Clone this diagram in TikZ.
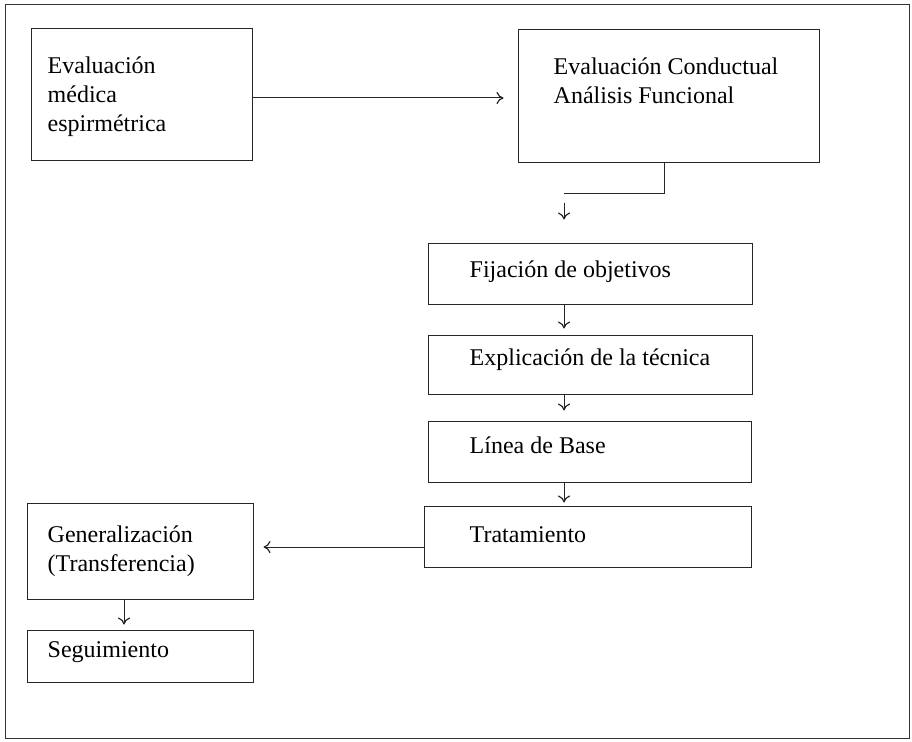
\documentclass[tikz,border=0pt]{standalone}
\usepackage{fontspec}
\setmainfont{Liberation Serif}
\usetikzlibrary{calc, arrows.meta}

\tikzset{
  box/.style={draw=black!85, line width=1pt, inner sep=0pt},
  txt/.style={anchor=west, align=left, inner sep=0pt, font=\fontsize{24}{29}\selectfont},
  link/.style={draw=black!85, line width=1pt},
  arr/.style={link, -{To[length=7pt,width=12pt,line width=1.2pt]}}
}

\begin{document}
\begin{tikzpicture}[x=1pt, y=-1pt]
  \useasboundingbox (0,0) rectangle (912,741);
  \draw[line width=1pt, black!80] (5,5) rectangle (909,738);

  % boxes
  \node[box, minimum width=221, minimum height=131] (evmed) at (141.5,94.5) {};
  \node[box, minimum width=301, minimum height=132] (evcond) at (668.5,96) {};
  \node[box, minimum width=324, minimum height=61] (fij) at (590,273.5) {};
  \node[box, minimum width=324, minimum height=59] (expl) at (590,364.5) {};
  \node[box, minimum width=323, minimum height=61] (lbase) at (589.5,451.5) {};
  \node[box, minimum width=327, minimum height=61] (trat) at (587.5,536.5) {};
  \node[box, minimum width=226, minimum height=96] (gen) at (140,551) {};
  \node[box, minimum width=226, minimum height=52] (seg) at (140,656) {};

  % texts, left aligned inside the boxes
  \node[txt] (tevmed) at ($(evmed.west)+(17,2.5)$) {Evaluación\\médica\\espirmétrica};
  \node[txt] (tevcond) at ($(evcond.west)+(36,-15)$) {Evaluación Conductual\\Análisis Funcional};
  \node[txt] (tfij) at ($(fij.west)+(42,-1.5)$) {Fijación de objetivos};
  \node[txt] (texpl) at ($(expl.west)+(42,-5)$) {Explicación de la técnica};
  \node[txt] (tlbase) at ($(lbase.west)+(42,-6)$) {Línea de Base};
  \node[txt] (ttrat) at ($(trat.west)+(46,-2)$) {Tratamiento};
  \node[txt] (tgen) at ($(gen.west)+(21,0)$) {Generalización\\(Transferencia)};
  \node[txt] (tseg) at ($(seg.west)+(21,-4)$) {Seguimiento};

  \coordinate (a1) at ($(evmed.east)+(0,3.5)$);
  \coordinate (k1) at ($(fij.north)+(-26,-49)$);
  \coordinate (k2) at ($(k1)+(0,9)$);
  \coordinate (a2) at ($(trat.west)+(0,10.5)$);
  \coordinate (a3) at ($(gen.south)+(-16,0)$);

  \draw[arr, shorten >=14pt] (a1) -- (a1 -| evcond.west);
  \draw[link] ($(evcond.south)+(-4.5,0)$) |- (k1);
  \draw[arr, shorten >=23pt] (k2) -- (k2 |- fij.north);
  \foreach \a/\b/\s in {fij/expl/6, expl/lbase/10, lbase/trat/3}
    \draw[arr, shorten >=\s pt] (\a.south -| k1) -- (\b.north -| k1);
  \draw[arr, shorten >=10pt] (a2) -- (a2 -| gen.east);
  \draw[arr, shorten >=5pt] (a3) -- (a3 |- seg.north);
\end{tikzpicture}
\end{document}
